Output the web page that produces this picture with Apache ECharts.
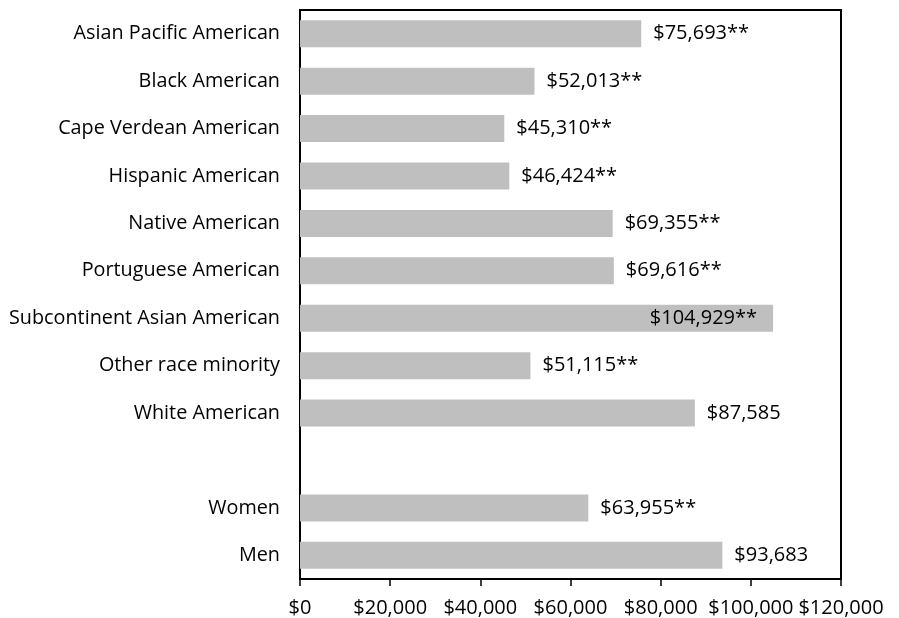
<!DOCTYPE html>
<html>
<head>
<meta charset="utf-8">
<script src="https://cdn.jsdelivr.net/npm/echarts@6/dist/echarts.min.js"></script>
<style>
  html, body { margin: 0; padding: 0; background: #fff; }
  #chart { width: 899px; height: 618px; }
</style>
</head>
<body>
<div id="chart"></div>
<script>
// categories (blank slot separates race groups from gender)
const categories = [
    'Asian Pacific American',
    'Black American',
    'Cape Verdean American',
    'Hispanic American',
    'Native American',
    'Portuguese American',
    'Subcontinent Asian American',
    'Other race minority',
    'White American',
    '',
    'Women',
    'Men'
];
const values = [75693, 52013, 45310, 46424, 69355, 69616, 104929, 51115, 87585, null, 63955, 93683];
const flags = ['**', '**', '**', '**', '**', '**', '**', '**', '', '', '**', ''];
const xTicks = [0, 20000, 40000, 60000, 80000, 100000, 120000];

const font = '"Open Sans", sans-serif';
const money = v => '$' + v.toLocaleString('en-US');

const chart = echarts.init(document.getElementById('chart'));

const seriesData = values.map((v, i) => {
    if (v == null) return '-';
    const item = { value: v, flag: flags[i] };
    // the widest bar keeps its label inside the bar end
    if (v > 100000) item.label = { position: 'insideRight', distance: 16 };
    return item;
});

chart.setOption({
    animation: false,
    grid: {
        left: 300,
        right: 58,
        top: 10,
        bottom: 39,
        show: true,
        borderColor: '#000',
        borderWidth: 2
    },
    xAxis: {
        type: 'value',
        min: xTicks[0],
        max: xTicks[xTicks.length - 1],
        interval: 20000,
        splitLine: { show: false },
        axisLine: { show: true, lineStyle: { color: '#000', width: 2 } },
        axisTick: { show: true, length: 7, lineStyle: { color: '#000', width: 1.5 } },
        axisLabel: {
            formatter: v => money(v),
            color: '#000',
            fontFamily: font,
            fontSize: 20,
            margin: 19
        }
    },
    yAxis: {
        type: 'category',
        inverse: true,
        data: categories,
        axisLine: { show: true, lineStyle: { color: '#000', width: 2 } },
        axisTick: { show: false },
        axisLabel: {
            color: '#000',
            fontFamily: font,
            fontSize: 19.8,
            margin: 20
        }
    },
    series: [{
        type: 'bar',
        data: seriesData,
        barWidth: 27,
        itemStyle: { color: '#bfbfbf' },
        label: {
            show: true,
            position: 'right',
            distance: 12,
            color: '#000',
            fontFamily: font,
            fontSize: 20,
            formatter: p => money(p.value) + (p.data.flag || '')
        }
    }]
});
</script>
</body>
</html>
